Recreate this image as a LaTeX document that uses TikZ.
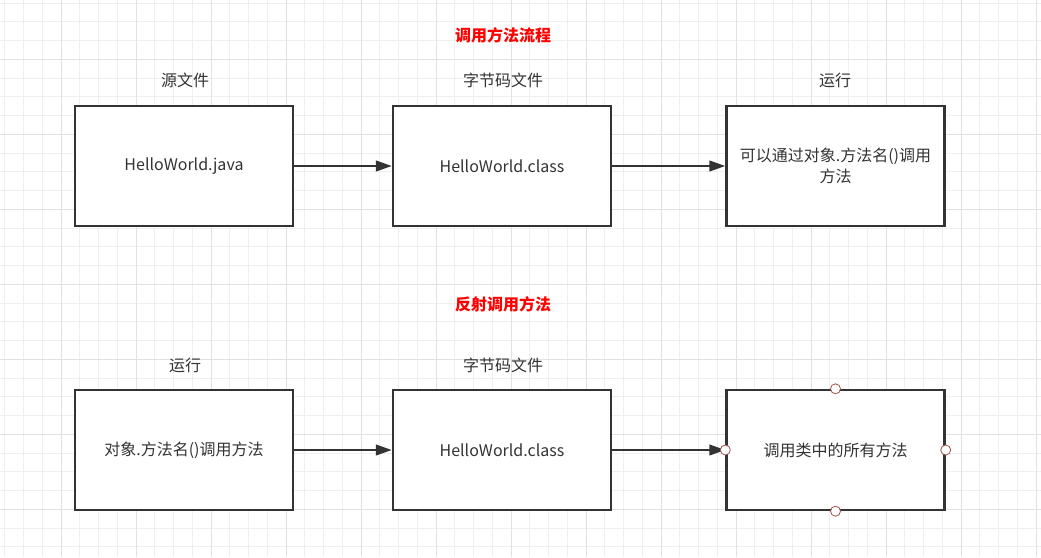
\documentclass[tikz,border=0pt]{standalone}
\usepackage{fontspec}
\setmainfont{Noto Sans CJK SC}
\usetikzlibrary{arrows.meta}
\definecolor{txt}{HTML}{333333}
\definecolor{gridminor}{HTML}{EFEFEF}
\definecolor{gridmajor}{HTML}{E1E1E1}
\definecolor{handle}{HTML}{A0524D}
\tikzset{
  box/.style={draw=txt, line width=1.8pt, fill=white, minimum width=218*0.75pt, minimum height=120*0.75pt, inner sep=0pt, text=txt, font=\fontsize{12pt}{15.5pt}\selectfont, align=center, text width=205*0.75pt},
  lbl/.style={text=txt, font=\fontsize{12pt}{15.5pt}\selectfont, inner sep=0pt},
  ttl/.style={text=red, font=\fontsize{12pt}{15.5pt}\selectfont\bfseries, inner sep=0pt},
  conn/.style={draw=txt, line width=1.6pt, -{Triangle[length=12pt,width=8pt]}},
  hdl/.style={circle, draw=handle, fill=white, line width=0.6pt, minimum size=7.5pt, inner sep=0pt}
}
\begin{document}
\begin{tikzpicture}[x=0.75pt,y=-0.75pt]
\useasboundingbox (0,0) rectangle (1041,557);
\fill[white] (0,0) rectangle (1041,557);
% minor grid
\foreach \i in {0,...,55} {
  \draw[gridminor, line width=0.75pt] ({4.75+18.75*\i},0) -- ({4.75+18.75*\i},557);
}
\foreach \j in {0,...,29} {
  \draw[gridminor, line width=0.75pt] (0,{3.05+18.75*\j}) -- (1041,{3.05+18.75*\j});
}
% major grid
\foreach \i in {0,...,13} {
  \draw[gridmajor, line width=0.75pt] ({61+75*\i},0) -- ({61+75*\i},557);
}
\foreach \j in {0,...,6} {
  \draw[gridmajor, line width=0.75pt] (0,{59.3+75*\j}) -- (1041,{59.3+75*\j});
}
% titles
\node[ttl] (t1) at (503,35) {调用方法流程};
\node[ttl] (t2) at (503,304) {反射调用方法};
% top row
\node[lbl] (l1) at (185,80) {源文件};
\node[lbl] (l2) at (503,80) {字节码文件};
\node[lbl] (l3) at (835,80) {运行};
\node[box] (a) at (184,166) {HelloWorld.java};
\node[box] (b) at (502,166) {HelloWorld.class};
\node[box] (c) at (835.5,166) {可以通过对象.方法名()调用\\方法};
\draw[conn] (a.east) -- (b.west);
\draw[conn] (b.east) -- (c.west);
% bottom row
\node[lbl] (l4) at (185,365) {运行};
\node[lbl] (l5) at (503,365) {字节码文件};
\node[box] (d) at (184,450) {对象.方法名()调用方法};
\node[box] (e) at (502,450) {HelloWorld.class};
\node[box] (f) at (835.5,450) {调用类中的所有方法};
\draw[conn] (d.east) -- (e.west);
\draw[conn] (e.east) -- (f.west);
% handles
\node[hdl] (h1) at (f.north) {};
\node[hdl] (h2) at (f.south) {};
\node[hdl] (h3) at (f.west) {};
\node[hdl] (h4) at (f.east) {};
\end{tikzpicture}
\end{document}
